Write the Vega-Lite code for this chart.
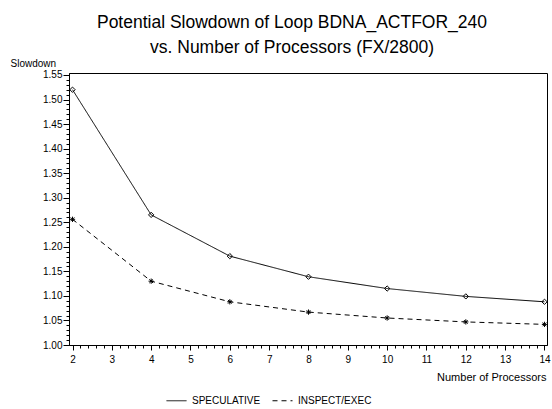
{
  "$schema": "https://vega.github.io/schema/vega-lite/v6.json",
  "width": 478,
  "height": 272,
  "autosize": {"type": "none"},
  "padding": {"left": 69, "top": 73, "right": 5, "bottom": 64},
  "background": "white",
  "config": {
    "font": "Liberation Sans",
    "view": {"stroke": "black", "strokeWidth": 1},
    "axis": {"domainColor": "black", "tickColor": "black", "labelColor": "black", "titleColor": "black", "grid": false, "labelFontSize": 10, "labelFont": "Liberation Sans", "titleFont": "Liberation Sans", "titleFontWeight": "normal"}
  },
  "title": {
    "text": ["Potential Slowdown of Loop BDNA_ACTFOR_240", "vs. Number of Processors (FX/2800)"],
    "fontSize": 17.5,
    "fontWeight": "normal",
    "font": "Liberation Sans",
    "color": "black",
    "anchor": "middle",
    "frame": "group",
    "dx": -16,
    "lineHeight": 25,
    "offset": 2
  },
  "data": {
    "values": [
      {"series": "SPECULATIVE", "processors": 2, "slowdown": 1.520},
      {"series": "SPECULATIVE", "processors": 4, "slowdown": 1.265},
      {"series": "SPECULATIVE", "processors": 6, "slowdown": 1.181},
      {"series": "SPECULATIVE", "processors": 8, "slowdown": 1.139},
      {"series": "SPECULATIVE", "processors": 10, "slowdown": 1.115},
      {"series": "SPECULATIVE", "processors": 12, "slowdown": 1.099},
      {"series": "SPECULATIVE", "processors": 14, "slowdown": 1.088},
      {"series": "INSPECT/EXEC", "processors": 2, "slowdown": 1.256},
      {"series": "INSPECT/EXEC", "processors": 4, "slowdown": 1.130},
      {"series": "INSPECT/EXEC", "processors": 6, "slowdown": 1.088},
      {"series": "INSPECT/EXEC", "processors": 8, "slowdown": 1.067},
      {"series": "INSPECT/EXEC", "processors": 10, "slowdown": 1.055},
      {"series": "INSPECT/EXEC", "processors": 12, "slowdown": 1.047},
      {"series": "INSPECT/EXEC", "processors": 14, "slowdown": 1.042}
    ]
  },
  "encoding": {
    "x": {
      "field": "processors", "type": "quantitative",
      "scale": {"domain": [1.911, 14.064], "nice": false, "zero": false},
      "axis": {
        "title": "Number of Processors",
        "titleFontSize": 11,
        "titleAnchor": "end",
        "titleAlign": "right",
        "titleX": 477,
        "titleY": 26,
        "values": [2,2.2,2.4,2.6,2.8,3,3.2,3.4,3.6,3.8,4,4.2,4.4,4.6,4.8,5,5.2,5.4,5.6,5.8,6,6.2,6.4,6.6,6.8,7,7.2,7.4,7.6,7.8,8,8.2,8.4,8.6,8.8,9,9.2,9.4,9.6,9.8,10,10.2,10.4,10.6,10.8,11,11.2,11.4,11.6,11.8,12,12.2,12.4,12.6,12.8,13,13.2,13.4,13.6,13.8,14],
        "labelExpr": "abs(datum.value - round(datum.value)) < 1e-6 ? format(datum.value, 'd') : ''",
        "labelOverlap": false,
        "labelBound": false,
        "labelFlush": false,
        "labelPadding": 4,
        "tickSize": {"condition": {"test": "abs(datum.value - round(datum.value)) < 1e-6", "value": 5}, "value": 3}
      }
    },
    "y": {
      "field": "slowdown", "type": "quantitative",
      "scale": {"domain": [1.0, 1.554], "nice": false, "zero": false},
      "axis": {
        "title": "Slowdown",
        "titleFontSize": 10,
        "titleAngle": 0,
        "titleAlign": "left",
        "titleBaseline": "alphabetic",
        "titleX": -59,
        "titleY": -7,
        "values": [1,1.01,1.02,1.03,1.04,1.05,1.06,1.07,1.08,1.09,1.1,1.11,1.12,1.13,1.14,1.15,1.16,1.17,1.18,1.19,1.2,1.21,1.22,1.23,1.24,1.25,1.26,1.27,1.28,1.29,1.3,1.31,1.32,1.33,1.34,1.35,1.36,1.37,1.38,1.39,1.4,1.41,1.42,1.43,1.44,1.45,1.46,1.47,1.48,1.49,1.5,1.51,1.52,1.53,1.54,1.55],
        "labelExpr": "abs(datum.value*20 - round(datum.value*20)) < 1e-6 ? format(datum.value, '.2f') : ''",
        "labelOverlap": false,
        "labelBound": false,
        "labelFlush": false,
        "labelPadding": 1,
        "tickSize": {"condition": {"test": "abs(datum.value*20 - round(datum.value*20)) < 1e-6", "value": 6}, "value": 3}
      }
    }
  },
  "layer": [
    {
      "mark": {"type": "line", "color": "black", "strokeWidth": 1},
      "encoding": {
        "strokeDash": {
          "field": "series", "type": "nominal",
          "scale": {"domain": ["SPECULATIVE", "INSPECT/EXEC"], "range": [[1, 0], [5, 4]]},
          "legend": {
            "title": null,
            "orient": "none",
            "legendX": 97,
            "legendY": 317,
            "direction": "horizontal",
            "symbolType": "stroke",
            "symbolSize": 400,
            "symbolStrokeColor": "black",
            "symbolStrokeWidth": 1,
            "labelFontSize": 10,
            "labelColor": "black",
            "labelOffset": 5,
            "columnPadding": 9
          }
        }
      }
    },
    {
      "mark": {"type": "point", "filled": false, "color": "black", "strokeWidth": 1, "size": 28, "opacity": 1},
      "encoding": {
        "shape": {
          "field": "series", "type": "nominal",
          "scale": {"domain": ["INSPECT/EXEC", "SPECULATIVE"], "range": ["M-1,0L1,0M0,-1L0,1M-0.7,-0.7L0.7,0.7M-0.7,0.7L0.7,-0.7", "diamond"]},
          "legend": null
        }
      }
    }
  ],
  "resolve": {"scale": {"shape": "independent"}, "legend": {"shape": "independent", "strokeDash": "independent"}}
}
